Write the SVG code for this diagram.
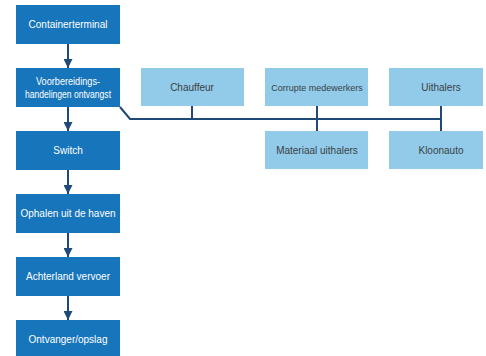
<svg xmlns="http://www.w3.org/2000/svg" width="486" height="356" viewBox="0 0 486 356">
<defs>
<style>
.d{fill:#1775bb}
.l{fill:#92cbe9}
.td{fill:#ffffff;font-family:"Liberation Sans",Arial,sans-serif;font-size:10px;text-anchor:middle}
.tl{fill:#3a3f44;font-family:"Liberation Sans",Arial,sans-serif;font-size:10px;text-anchor:middle}
.c{stroke:#1f4a78;stroke-width:2;fill:none}
</style>
<marker id="ah" markerWidth="9" markerHeight="9" refX="9" refY="4.5" orient="auto" markerUnits="userSpaceOnUse">
<path d="M0,0 L9,4.5 L0,9 Z" fill="#1f4a78"/>
</marker>
</defs>
<rect width="486" height="356" fill="#ffffff"/>
<g id="connectors">
<line class="c" x1="68" y1="44" x2="68" y2="68" marker-end="url(#ah)"/>
<line class="c" x1="68" y1="107" x2="68" y2="131" marker-end="url(#ah)"/>
<line class="c" x1="68" y1="170" x2="68" y2="194" marker-end="url(#ah)"/>
<line class="c" x1="68" y1="233" x2="68" y2="257" marker-end="url(#ah)"/>
<line class="c" x1="68" y1="296" x2="68" y2="320" marker-end="url(#ah)"/>
<polyline class="c" points="120,107 130,119 441,119"/>
<line class="c" x1="192" y1="106" x2="192" y2="119"/>
<line class="c" x1="317" y1="106" x2="317" y2="131"/>
<line class="c" x1="441" y1="106" x2="441" y2="131"/>
</g>
<g id="containerterminal"><rect class="d" x="16" y="5" width="104" height="39"/><text class="td" x="68" y="28">Containerterminal</text></g>
<g id="voorbereidings"><rect class="d" x="16" y="68" width="104" height="39"/><text class="td" x="68" y="85" textLength="64" lengthAdjust="spacingAndGlyphs">Voorbereidings-</text><text class="td" x="68" y="98" textLength="86" lengthAdjust="spacingAndGlyphs">handelingen ontvangst</text></g>
<g id="switch"><rect class="d" x="16" y="131" width="104" height="39"/><text class="td" x="68" y="154">Switch</text></g>
<g id="ophalen"><rect class="d" x="16" y="194" width="104" height="39"/><text class="td" x="68" y="217">Ophalen uit de haven</text></g>
<g id="achterland"><rect class="d" x="16" y="257" width="104" height="39"/><text class="td" x="68" y="280">Achterland vervoer</text></g>
<g id="ontvanger"><rect class="d" x="16" y="320" width="104" height="39"/><text class="td" x="68" y="343">Ontvanger/opslag</text></g>
<g id="chauffeur"><rect class="l" x="141" y="68" width="103" height="38"/><text class="tl" x="192" y="91">Chauffeur</text></g>
<g id="corrupte"><rect class="l" x="265" y="68" width="103" height="38"/><text class="tl" x="317" y="91" style="font-size:9px">Corrupte medewerkers</text></g>
<g id="uithalers"><rect class="l" x="389" y="68" width="94" height="38"/><text class="tl" x="441" y="91">Uithalers</text></g>
<g id="materiaal"><rect class="l" x="265" y="131" width="103" height="38"/><text class="tl" x="317" y="154">Materiaal uithalers</text></g>
<g id="kloonauto"><rect class="l" x="389" y="131" width="94" height="38"/><text class="tl" x="441" y="154">Kloonauto</text></g>
</svg>
